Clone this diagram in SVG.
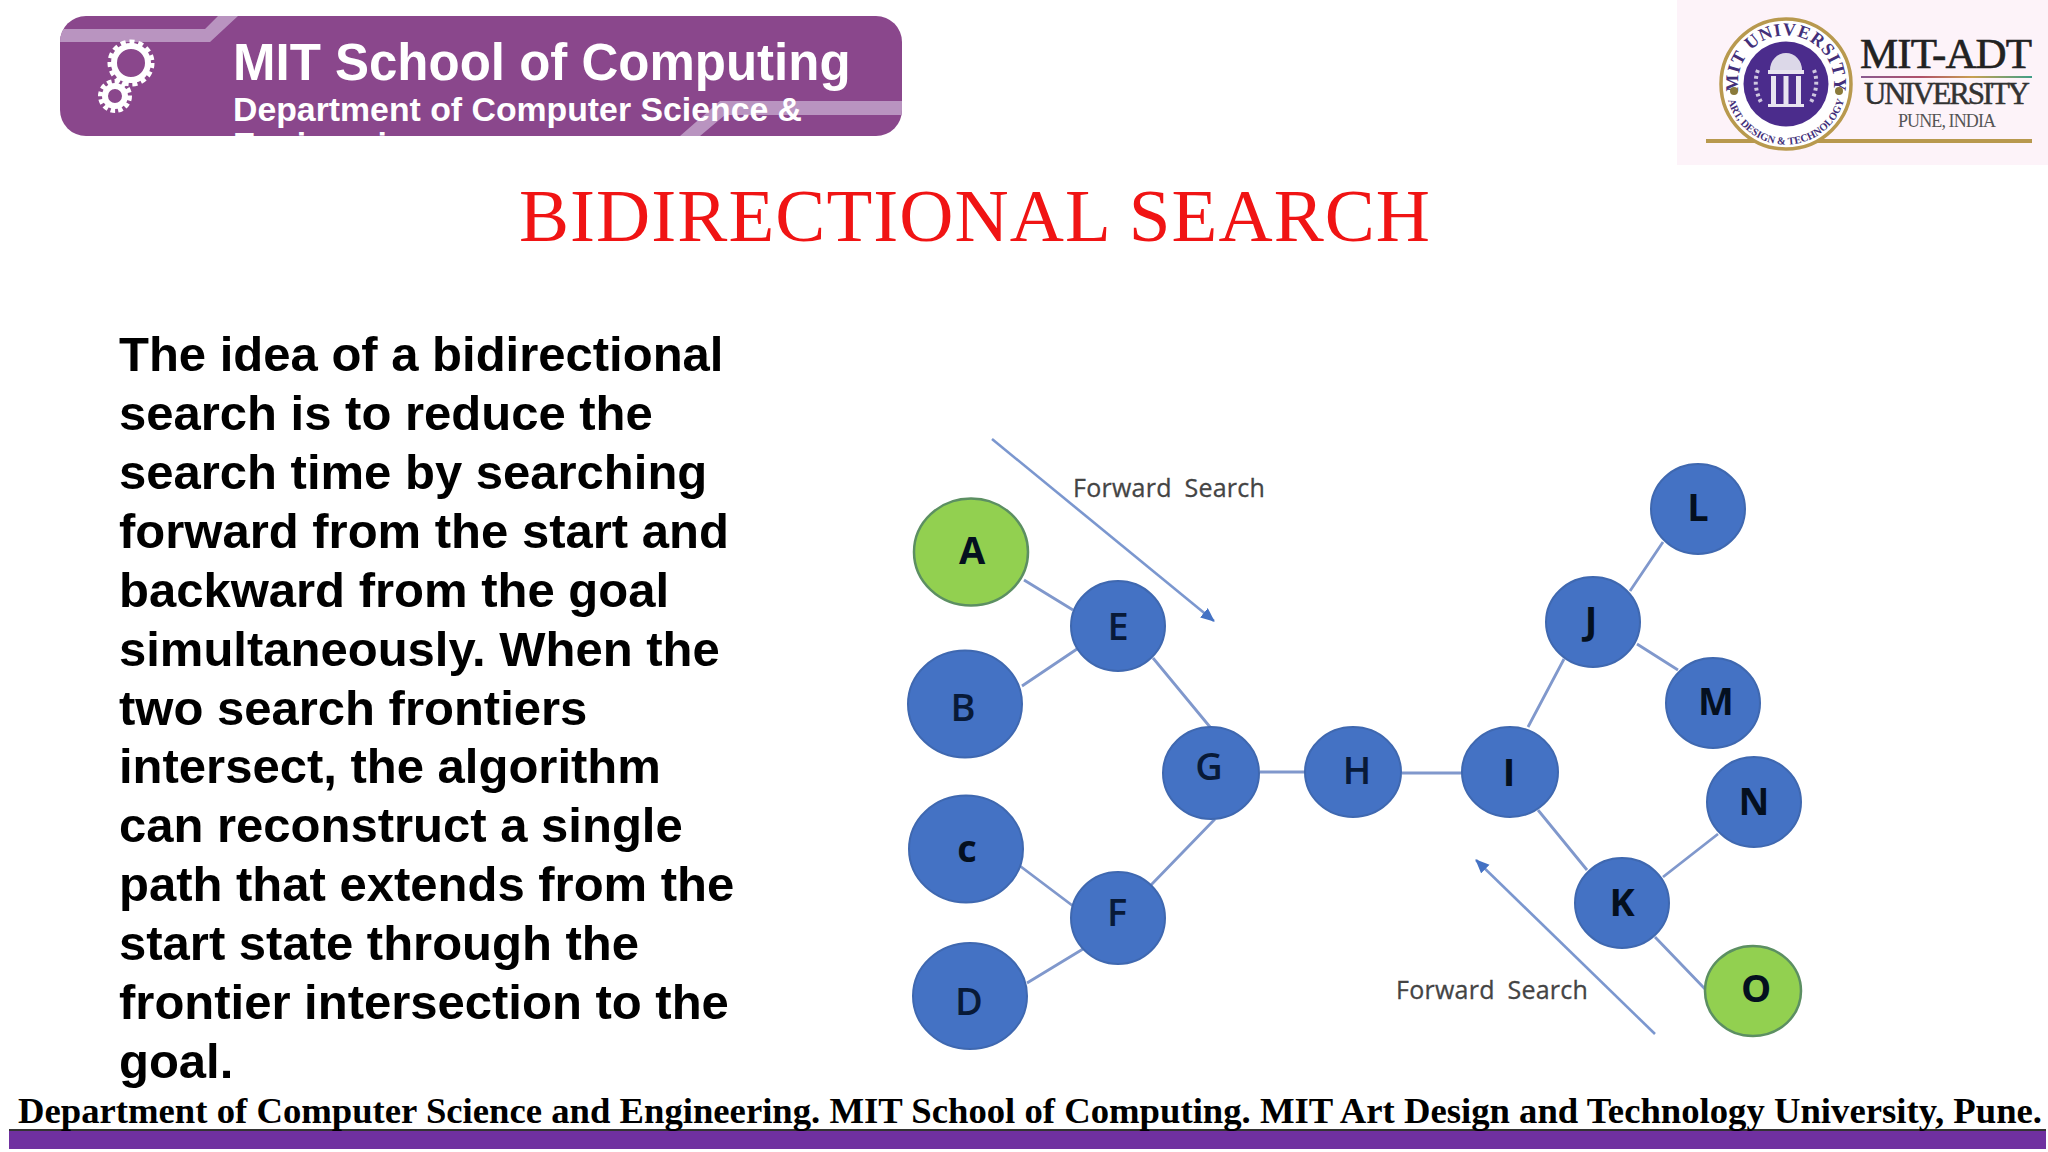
<svg xmlns="http://www.w3.org/2000/svg" xmlns:xlink="http://www.w3.org/1999/xlink" width="2048" height="1152" viewBox="0 0 2048 1152">
<style>
.n{fill:#4472c4;stroke:#3f68b0;stroke-width:2}
.g{fill:#92d050;stroke:#5c8f62;stroke-width:2.5}
.l{font-family:"Open Sans","Liberation Sans",sans-serif;font-weight:600;font-size:38px;fill:#081a38;text-anchor:middle}
.k{font-weight:700;fill:#04101f}
.e{stroke:#8098cc;stroke-width:2.8;fill:none}
.a{stroke:#7b97cf;stroke-width:2.6;fill:none;marker-end:url(#ah)}
.fs{font-family:"Open Sans","Liberation Sans",sans-serif;font-size:25px;fill:#444;word-spacing:6px;letter-spacing:.25px;stroke:#444;stroke-width:.3}
.b{font-family:"Liberation Sans",Arial,sans-serif;font-weight:700;font-size:49px;fill:#000}
.w{font-family:"Liberation Sans",Arial,sans-serif;font-weight:700;fill:#fff}
.s{font-family:"Liberation Serif","Times New Roman",serif}
</style>
<defs>
<marker id="ah" markerUnits="userSpaceOnUse" markerWidth="16" markerHeight="14" refX="13" refY="6" orient="auto"><path d="M0 0L14 6L0 12Z" fill="#4472c4"/></marker>
<clipPath id="bc"><rect x="60" y="16" width="842" height="120" rx="26"/></clipPath>
<path id="st" d="M1741 100A48 48 0 1 1 1831 100"/>
<path id="sb" d="M1728 100A60 60 0 0 0 1844 100"/>
<linearGradient id="lg"><stop offset="0" stop-color="#8a5a90"/><stop offset=".35" stop-color="#b0506a"/><stop offset=".65" stop-color="#c9a050"/><stop offset="1" stop-color="#3f9f88"/></linearGradient>
</defs>
<rect width="2048" height="1152" fill="#fff"/>
<g id="banner">
<rect x="60" y="16" width="842" height="120" rx="26" fill="#8a478c"/>
<g clip-path="url(#bc)">
<path d="M60 29H205L218 16H238L210 42H60Z" fill="#b994c0"/>
<path d="M902 101H720L680 136H700L725 115H902Z" fill="#b994c0"/>
<text class="w" x="233" y="156" font-size="33.800">Engineering</text>
</g>
<g id="gears" fill="none" stroke="#fff">
<circle cx="131" cy="63" r="17" stroke-width="6"/>
<circle cx="131" cy="63" r="21" stroke-width="5" stroke-dasharray="5 3.8"/>
<circle cx="115" cy="96" r="10" stroke-width="6"/>
<circle cx="115" cy="96" r="14.5" stroke-width="5" stroke-dasharray="4.5 3"/>
</g>
<text class="w" x="233" y="80" font-size="51">MIT School of Computing</text>
<text class="w" x="233" y="121" font-size="33.8">Department of Computer Science &amp;</text>
</g>
<g id="logo">
<rect x="1677" y="0" width="371" height="165" fill="#fdf3f9"/>
<rect x="1706" y="139" width="326" height="4" fill="#b8994e"/>
<circle cx="1786" cy="84" r="65" fill="#fff" stroke="#b8994e" stroke-width="3.5"/>
<circle cx="1786" cy="84" r="42.5" fill="#4b2c8c"/>
<text class="s" font-size="18" font-weight="700" fill="#43307a" letter-spacing="1"><textPath xlink:href="#st" startOffset="50%" text-anchor="middle">MIT UNIVERSITY</textPath></text>
<text class="s" font-size="10.5" font-weight="700" fill="#43307a"><textPath xlink:href="#sb" startOffset="50%" text-anchor="middle">ART, DESIGN &amp; TECHNOLOGY</textPath></text>
<circle cx="1734" cy="91" r="4" fill="#8a7a3a"/><circle cx="1839" cy="91" r="4" fill="#8a7a3a"/>
<path d="M1770 70A16 17 0 0 1 1802 70Z" fill="#dcd8e8"/>
<rect x="1768" y="70" width="36" height="4" fill="#e8e4f0"/>
<path d="M1771 76h5v28h-5zM1783.500 76h5v28h-5zM1796 76h5v28h-5zM1768 104h36v3h-36z" fill="#e8e4f0"/>
<path d="M1758 70Q1752 86 1762 104M1814 70Q1820 86 1810 104" fill="none" stroke="#cfc8e0" stroke-width="4" stroke-dasharray="3 3"/>
<text class="s" x="1860" y="68" font-size="43" fill="#222" stroke="#222" stroke-width=".6" textLength="172">MIT-ADT</text>
<rect x="1861" y="76" width="171" height="2" fill="url(#lg)"/>
<text class="s" x="1864" y="104" font-size="31" fill="#333" stroke="#333" stroke-width=".5" textLength="166">UNIVERSITY</text>
<text class="s" x="1898" y="127" font-size="18" fill="#555" textLength="98">PUNE, INDIA</text>
</g>
<text id="title" class="s" x="519" y="241" font-size="75" fill="#f01414" textLength="911">BIDIRECTIONAL SEARCH</text>
<g id="body" class="b">
<text x="119" y="371">The idea of a bidirectional</text>
<text x="119" y="430">search is to reduce the</text>
<text x="119" y="489">search time by searching</text>
<text x="119" y="548">forward from the start and</text>
<text x="119" y="607">backward from the goal</text>
<text x="119" y="666">simultaneously. When the</text>
<text x="119" y="725">two search frontiers</text>
<text x="119" y="783">intersect, the algorithm</text>
<text x="119" y="842">can reconstruct a single</text>
<text x="119" y="901">path that extends from the</text>
<text x="119" y="960">start state through the</text>
<text x="119" y="1019">frontier intersection to the</text>
<text x="119" y="1078">goal.</text>
</g>
<g id="connectors">
<path class="e" d="M1024 580L1073 610M1022 686L1077 649M1153 658L1210 727M1260 772H1306M1215 819L1151 885M1020 866L1073 906M1027 983L1083 949M1402 773H1462M1528 727L1564 659M1630 591L1663 542M1637 644L1678 670M1538 810L1587 870M1663 877L1718 834M1655 937L1705 989"/>
<path class="a" d="M992 439L1214 621"/>
<path class="a" d="M1655 1034L1476 860"/>
</g>
<g id="node-A"><ellipse class="g" cx="971" cy="552" rx="57" ry="53.500"/><text class="l k" x="972" y="564">A</text></g>
<g id="node-B"><ellipse class="n" cx="965" cy="704" rx="57" ry="53.500"/><text class="l" x="963" y="721">B</text></g>
<g id="node-C"><ellipse class="n" cx="966" cy="849" rx="57" ry="53.500"/><text class="l k" x="967" y="862">c</text></g>
<g id="node-D"><ellipse class="n" cx="970" cy="996" rx="57" ry="53"/><text class="l" x="969" y="1015">D</text></g>
<g id="node-E"><ellipse class="n" cx="1118" cy="626" rx="47" ry="45"/><text class="l" x="1118" y="640">E</text></g>
<g id="node-F"><ellipse class="n" cx="1118" cy="918" rx="47" ry="46"/><text class="l" x="1117" y="926">F</text></g>
<g id="node-G"><ellipse class="n" cx="1211" cy="773" rx="48" ry="46"/><text class="l" x="1209" y="780">G</text></g>
<g id="node-H"><ellipse class="n" cx="1353" cy="772" rx="48" ry="45"/><text class="l" x="1357" y="784">H</text></g>
<g id="node-I"><ellipse class="n" cx="1510" cy="772" rx="48" ry="45"/><text class="l k" x="1509" y="786">I</text></g>
<g id="node-J"><ellipse class="n" cx="1593" cy="622" rx="47" ry="45"/><text class="l k" x="1591" y="634">J</text></g>
<g id="node-K"><ellipse class="n" cx="1622" cy="903" rx="47" ry="45"/><text class="l k" x="1622" y="916">K</text></g>
<g id="node-L"><ellipse class="n" cx="1698" cy="509" rx="47" ry="45"/><text class="l k" x="1698" y="521">L</text></g>
<g id="node-M"><ellipse class="n" cx="1713" cy="703" rx="47" ry="45"/><text class="l k" x="1716" y="715">M</text></g>
<g id="node-N"><ellipse class="n" cx="1754" cy="802" rx="47" ry="45"/><text class="l k" x="1754" y="815">N</text></g>
<g id="node-O"><ellipse class="g" cx="1753" cy="991" rx="48" ry="45"/><text class="l k" x="1756" y="1002">O</text></g>
<text class="fs" x="1073" y="497">Forward Search</text>
<text class="fs" x="1396" y="999">Forward Search</text>
<g id="footer">
<rect x="9" y="1130" width="2037" height="19" fill="#7030a0"/>
<rect x="9" y="1129" width="2037" height="2" fill="#333"/>
<text class="s" x="18" y="1123" font-size="35" font-weight="700" fill="#000" textLength="2024" lengthAdjust="spacingAndGlyphs">Department of Computer Science and Engineering. MIT School of Computing. MIT Art Design and Technology University, Pune.</text>
</g>
</svg>
